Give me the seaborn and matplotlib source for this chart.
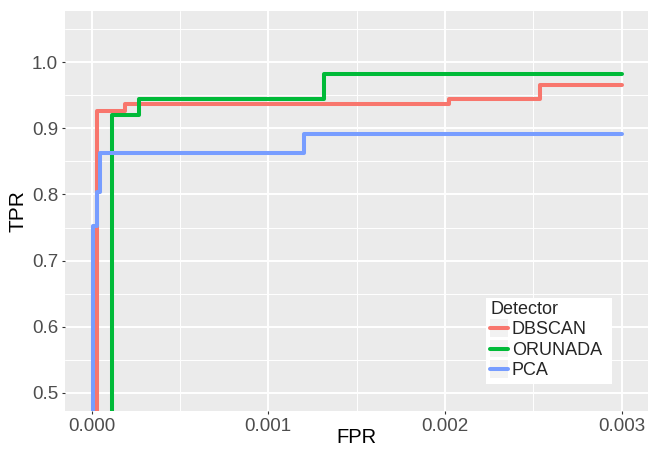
import numpy as np
import pandas as pd
import matplotlib
matplotlib.use("Agg")
import matplotlib.pyplot as plt
from matplotlib.patches import Rectangle
from matplotlib.legend_handler import HandlerLine2D
import seaborn as sns

# ROC step points (FPR, TPR), steps-post
dbscan_fpr = [0.0, 0.000030, 0.000192, 0.002023, 0.002537, 0.003]
dbscan_tpr = [0.0, 0.926, 0.937, 0.945, 0.965, 0.965]
orunada_fpr = [0.0, 0.000117, 0.000270, 0.001318, 0.003]
orunada_tpr = [0.0, 0.920, 0.945, 0.982, 0.982]
pca_fpr = [0.0, 0.000006, 0.000032, 0.000047, 0.001200, 0.003]
pca_tpr = [0.0, 0.753, 0.803, 0.863, 0.891, 0.891]

detectors = ["DBSCAN", "ORUNADA", "PCA"]
colors = ["#F8766D", "#00BA38", "#779DFF"]

x_ticks = [0.0, 0.001, 0.002, 0.003]
x_labels = ["0.000", "0.001", "0.002", "0.003"]
y_ticks = [0.5, 0.6, 0.7, 0.8, 0.9, 1.0]
y_labels = ["0.5", "0.6", "0.7", "0.8", "0.9", "1.0"]

frames = []
for name, fx, ty in zip(detectors,
                        [dbscan_fpr, orunada_fpr, pca_fpr],
                        [dbscan_tpr, orunada_tpr, pca_tpr]):
    frames.append(pd.DataFrame({"FPR": fx, "TPR": ty, "Detector": name}))
df = pd.concat(frames, ignore_index=True)


class KeyHandler(HandlerLine2D):
    # ggplot-like legend key: grey square behind the line
    def create_artists(self, legend, orig_handle, xdescent, ydescent,
                       width, height, fontsize, trans):
        bg = Rectangle((-xdescent, -ydescent - 0.2 * height), width, height * 1.4,
                       facecolor="#F2F2F2", edgecolor="none", transform=trans)
        arts = super().create_artists(legend, orig_handle, xdescent, ydescent,
                                      width, height, fontsize, trans)
        return [bg] + list(arts)


sns.set_style("darkgrid", {"axes.facecolor": "#EBEBEB", "grid.color": "white"})
plt.rcParams["font.family"] = ["Liberation Sans", "DejaVu Sans"]

fig = plt.figure(figsize=(6.58, 4.49), dpi=100)
ax = fig.add_axes([65 / 658, 1 - 411 / 449, 583 / 658, 400 / 449])

sns.lineplot(data=df, x="FPR", y="TPR", hue="Detector", hue_order=detectors,
             palette=colors, estimator=None, sort=False, drawstyle="steps-post",
             linewidth=2.9, ax=ax)

ax.set_xlim(-0.00015, 0.00315)
ax.set_ylim(0.4725, 1.0775)
ax.set_xticks(x_ticks)
ax.set_xticklabels(x_labels)
ax.set_yticks(y_ticks)
ax.set_yticklabels(y_labels)
ax.set_xticks([0.0005, 0.0015, 0.0025], minor=True)
ax.set_yticks([0.55, 0.65, 0.75, 0.85, 0.95, 1.05], minor=True)
ax.grid(which="major", color="white", linewidth=1.4)
ax.grid(which="minor", color="white", linewidth=0.7)
ax.set_axisbelow(True)
for s in ax.spines.values():
    s.set_visible(False)

ax.tick_params(axis="both", which="major", labelsize=13.5, labelcolor="#4D4D4D",
               length=2.5, width=0.8, color="#333333", pad=2.5, bottom=True, left=True)
ax.tick_params(axis="both", which="minor", length=0)
ax.set_xlabel("FPR", fontsize=14.5, color="black", va="baseline")
ax.xaxis.set_label_coords(0.5, -0.08)
ax.set_ylabel("TPR", fontsize=15, color="black", va="center")
ax.yaxis.set_label_coords(-0.081, 0.5)

# white legend panel (ggplot legend box)
ax.add_patch(Rectangle((0.722, 0.0675), 0.216, 0.215, transform=ax.transAxes,
                       facecolor="white", edgecolor="none", zorder=4))

handles, labels = ax.get_legend_handles_labels()
leg = ax.legend(handles, labels, title="Detector", loc="upper left",
                bbox_to_anchor=(0.726, 0.2805), borderaxespad=0,
                fontsize=13, title_fontsize=13, frameon=False,
                handlelength=1.0, handletextpad=0.2,
                labelspacing=0.2, borderpad=0.1, alignment="left",
                handler_map={h: KeyHandler() for h in handles})
leg.set_zorder(5)
for line in leg.get_lines():
    line.set_linewidth(3)

fig.savefig("out.png", dpi=100)
